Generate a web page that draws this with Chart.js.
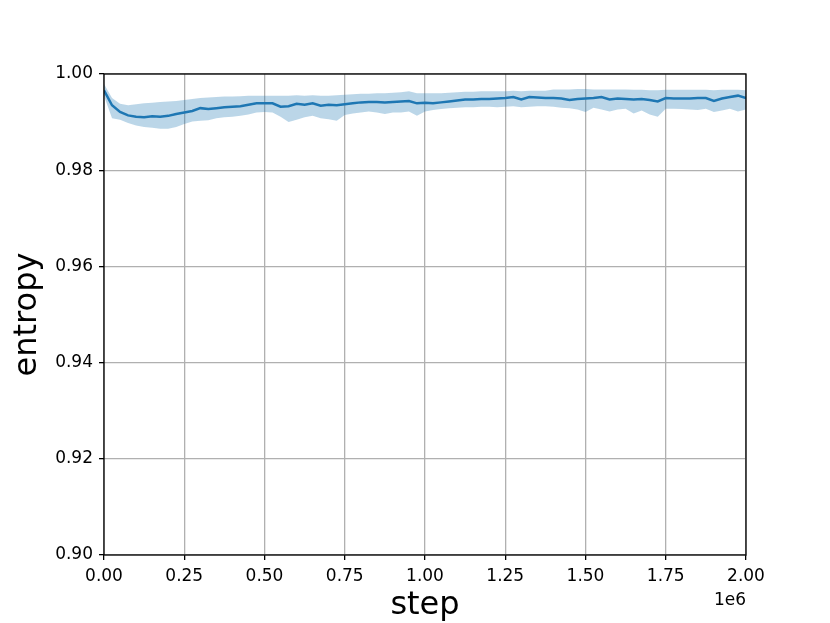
<!DOCTYPE html>
<html>
<head>
<meta charset="utf-8">
<script src="https://cdn.jsdelivr.net/npm/chart.js@4/dist/chart.umd.min.js"></script>
<style>
html,body{margin:0;padding:0;background:#fff;}
canvas{display:block;}
</style>
</head>
<body>
<canvas id="c" width="830" height="623"></canvas>
<script>
const steps = [0,25000,50000,75000,100000,125000,150000,175000,200000,225000,
250000,275000,300000,325000,350000,375000,400000,425000,450000,475000,
500000,525000,550000,575000,600000,625000,650000,675000,700000,725000,
750000,775000,800000,825000,850000,875000,900000,925000,950000,975000,
1000000,1025000,1050000,1075000,1100000,1125000,1150000,1175000,1200000,1225000,
1250000,1275000,1300000,1325000,1350000,1375000,1400000,1425000,1450000,1475000,
1500000,1525000,1550000,1575000,1600000,1625000,1650000,1675000,1700000,1725000,
1750000,1775000,1800000,1825000,1850000,1875000,1900000,1925000,1950000,1975000,2000000];

const meanEntropy = [0.9966,0.9935,0.9921,0.9914,0.9911,0.9910,0.9912,0.9911,0.9913,0.9917,
0.9920,0.9923,0.9929,0.9927,0.9929,0.9931,0.9932,0.9933,0.9936,0.9939,
0.9939,0.9939,0.9932,0.9933,0.9938,0.9936,0.9939,0.9934,0.9936,0.9935,
0.9937,0.9939,0.9941,0.9942,0.9942,0.9941,0.9942,0.9943,0.9944,0.9939,
0.9940,0.9939,0.9941,0.9943,0.9945,0.9947,0.9947,0.9948,0.9948,0.9949,
0.9950,0.9952,0.9947,0.9952,0.9951,0.9950,0.9950,0.9949,0.9946,0.9948,
0.9949,0.9950,0.9952,0.9947,0.9949,0.9948,0.9947,0.9948,0.9946,0.9943,
0.9950,0.9949,0.9949,0.9949,0.9950,0.9950,0.9944,0.9949,0.9952,0.9955,0.9950];

const upperEntropy = [0.9979,0.9950,0.9938,0.9935,0.9937,0.9939,0.9940,0.9942,0.9943,0.9944,
0.9946,0.9948,0.9950,0.9951,0.9952,0.9953,0.9953,0.9954,0.9955,0.9955,
0.9955,0.9955,0.9955,0.9955,0.9956,0.9955,0.9956,0.9955,0.9955,0.9956,
0.9957,0.9958,0.9959,0.9959,0.9960,0.9960,0.9961,0.9962,0.9964,0.9960,
0.9960,0.9960,0.9960,0.9961,0.9962,0.9963,0.9963,0.9964,0.9964,0.9964,
0.9964,0.9965,0.9964,0.9965,0.9965,0.9965,0.9968,0.9968,0.9968,0.9969,
0.9969,0.9968,0.9968,0.9968,0.9968,0.9968,0.9967,0.9967,0.9966,0.9966,
0.9967,0.9967,0.9967,0.9967,0.9967,0.9967,0.9966,0.9967,0.9967,0.9967,0.9966];

const lowerEntropy = [0.9955,0.9908,0.9905,0.9898,0.9893,0.9890,0.9888,0.9886,0.9886,0.9890,
0.9896,0.9901,0.9903,0.9904,0.9908,0.9910,0.9911,0.9913,0.9916,0.9920,
0.9921,0.9920,0.9911,0.9900,0.9905,0.9910,0.9913,0.9908,0.9906,0.9903,
0.9915,0.9918,0.9920,0.9922,0.9920,0.9917,0.9920,0.9920,0.9922,0.9913,
0.9922,0.9925,0.9927,0.9929,0.9930,0.9931,0.9931,0.9932,0.9932,0.9931,
0.9932,0.9933,0.9931,0.9932,0.9933,0.9933,0.9932,0.9930,0.9929,0.9926,
0.9921,0.9930,0.9926,0.9922,0.9926,0.9928,0.9918,0.9924,0.9916,0.9911,
0.9928,0.9928,0.9927,0.9926,0.9925,0.9928,0.9921,0.9924,0.9928,0.9922,0.9926];

const yTicks = [0.90,0.92,0.94,0.96,0.98,1.00];
const xTicks = [0,250000,500000,750000,1000000,1250000,1500000,1750000,2000000];

const toPts = arr => arr.map((v,i)=>({x:steps[i],y:v}));
const FONT = "'DejaVu Sans', sans-serif";

const overlay = {
  id:'overlay',
  afterDraw(chart){
    const ctx = chart.ctx, a = chart.chartArea;
    ctx.save();
    ctx.strokeStyle = '#000';
    ctx.lineWidth = 1.3;
    ctx.strokeRect(a.left, a.top, a.right-a.left, a.bottom-a.top);
    ctx.fillStyle = '#000';
    ctx.font = "32px " + FONT;
    ctx.textAlign = 'center';
    ctx.textBaseline = 'middle';
    ctx.fillText('step', (a.left+a.right)/2, 606);
    ctx.save();
    ctx.translate(28, (a.top+a.bottom)/2);
    ctx.rotate(-Math.PI/2);
    ctx.fillText('entropy', 0, 0);
    ctx.restore();
    ctx.font = "17px " + FONT;
    ctx.textAlign = 'right';
    ctx.fillText('1e6', a.right, 601);
    ctx.restore();
  }
};

new Chart(document.getElementById('c'), {
  type:'line',
  data:{
    datasets:[
      {label:'lower', data:toPts(lowerEntropy), borderWidth:0, pointRadius:0, fill:false, backgroundColor:'rgba(31,119,180,0.3)', borderColor:'rgba(31,119,180,0)', tension:0},
      {label:'upper', data:toPts(upperEntropy), borderWidth:0, pointRadius:0, fill:'-1', backgroundColor:'rgba(31,119,180,0.3)', borderColor:'rgba(31,119,180,0)', tension:0},
      {label:'mean', data:toPts(meanEntropy), borderWidth:2.5, pointRadius:0, fill:false, borderColor:'#1f77b4', tension:0}
    ]
  },
  options:{
    responsive:false,
    animation:false,
    devicePixelRatio:1,
    layout:{padding:{top:74,right:84,left:0,bottom:0}},
    plugins:{legend:{display:false}, tooltip:{enabled:false}},
    scales:{
      x:{
        type:'linear', min:0, max:2000000,
        afterBuildTicks(s){ s.ticks = xTicks.map(v=>({value:v})); },
        afterFit(s){ s.height = 68; },
        ticks:{ color:'#000', font:{family:FONT, size:17}, padding:6, maxRotation:0,
          callback:(v)=> (v/1e6).toFixed(2) },
        grid:{ color:'#b0b0b0', lineWidth:1.3, tickColor:'#000', tickLength:5, drawTicks:true },
        border:{display:false}
      },
      y:{
        type:'linear', min:0.9, max:1.0,
        afterBuildTicks(s){ s.ticks = yTicks.map(v=>({value:v})); },
        afterFit(s){ s.width = 104; },
        ticks:{ color:'#000', font:{family:FONT, size:17}, padding:6,
          callback:(v)=> v.toFixed(2) },
        grid:{ color:'#b0b0b0', lineWidth:1.3, tickColor:'#000', tickLength:5, drawTicks:true },
        border:{display:false}
      }
    }
  },
  plugins:[overlay]
});
</script>
</body>
</html>
